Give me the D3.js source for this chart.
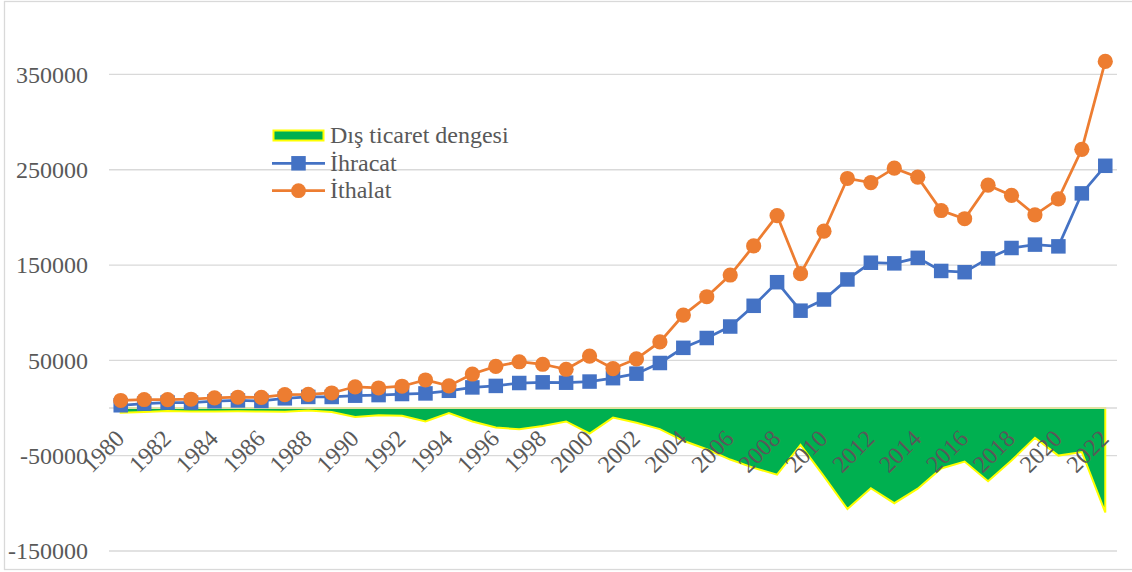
<!DOCTYPE html>
<html>
<head>
<meta charset="utf-8">
<script src="https://cdn.jsdelivr.net/npm/d3@7/dist/d3.min.js"></script>
<style>
  html, body { margin: 0; padding: 0; background: #fff; }
  svg { display: block; }
  text { font-family: "Liberation Serif", "Times New Roman", serif; fill: #595959; }
</style>
</head>
<body>
<svg id="chart" width="1132" height="572"></svg>
<script>
const years = d3.range(1980, 2023);
const ihracat = [2910, 4703, 5746, 5728, 7134, 7958, 7457, 10190, 11662, 11625,
  12959, 13593, 14715, 15345, 18106, 21637, 23224, 26261, 26974, 26587,
  27775, 31334, 36059, 47253, 63167, 73476, 85535, 107272, 132027, 102143,
  113883, 134907, 152462, 151803, 157610, 143839, 142530, 156993, 167921, 171465,
  169638, 225214, 254172];
const ithalat = [7909, 8933, 8843, 9235, 10757, 11343, 11105, 14158, 14335, 15792,
  22302, 21047, 22871, 29428, 23270, 35709, 43627, 48559, 45921, 40671,
  54503, 41399, 51554, 69340, 97540, 116774, 139576, 170063, 201964, 140928,
  185544, 240842, 236545, 251661, 242177, 207234, 198618, 233800, 223047, 202704,
  219517, 271426, 363711];
const denge = [-4999, -4230, -3097, -3507, -3623, -3385, -3648, -3968, -2673, -4167,
  -9343, -7454, -8156, -14083, -5164, -14072, -20403, -22298, -18947, -14084,
  -26728, -10065, -15495, -22087, -34373, -43298, -54041, -62791, -69937, -38785,
  -71661, -105935, -84083, -99858, -84567, -63395, -56088, -76807, -55126, -31239,
  -49879, -46212, -109539];
const yTicks = [-150000, -50000, 50000, 150000, 250000, 350000];
const xTickYears = years.filter(y => (y - 1980) % 2 === 0);
const seriesNames = ["Dış ticaret dengesi", "İhracat", "İthalat"];

const svg = d3.select("#chart");
const L = 109, R = 1117;
const x = d3.scalePoint().domain(years).range([L, R]).padding(0.5);
const y = d3.scaleLinear().domain([-150000, 400000]).range([551, 26.8]);

// chart border
svg.append("rect").attr("x", 4.5).attr("y", 1.5).attr("width", 1140).attr("height", 568)
  .attr("fill", "none").attr("stroke", "#d9d9d9").attr("stroke-width", 1.3);

// gridlines
svg.append("g").selectAll("line").data(yTicks).join("line")
  .attr("x1", L).attr("x2", R)
  .attr("y1", d => y(d)).attr("y2", d => y(d))
  .attr("stroke", "#d9d9d9").attr("stroke-width", 1.3);

// y labels
svg.append("g").selectAll("text").data(yTicks).join("text")
  .attr("x", 88).attr("y", d => y(d)).attr("dy", "0.34em")
  .attr("text-anchor", "end").attr("font-size", 24)
  .text(d => d);

// area
const idx = d3.range(years.length);
const area = d3.area().x(i => x(years[i])).y0(y(0)).y1(i => y(denge[i]));
svg.append("path").datum(idx).attr("d", area)
  .attr("fill", "#00B050").attr("stroke", "#FFFF00").attr("stroke-width", 2)
  .attr("stroke-linejoin", "miter");

// zero axis line
svg.append("line").attr("x1", L).attr("x2", R).attr("y1", y(0)).attr("y2", y(0))
  .attr("stroke", "#d9d9d9").attr("stroke-width", 1.5);

// lines
const lineGen = arr => d3.line().x(i => x(years[i])).y(i => y(arr[i]));
svg.append("path").datum(idx).attr("d", lineGen(ihracat))
  .attr("fill", "none").attr("stroke", "#4472C4").attr("stroke-width", 2.75);
const sq = 14.5;
svg.append("g").selectAll("rect").data(idx).join("rect")
  .attr("x", i => x(years[i]) - sq / 2).attr("y", i => y(ihracat[i]) - sq / 2)
  .attr("width", sq).attr("height", sq).attr("fill", "#4472C4");

svg.append("path").datum(idx).attr("d", lineGen(ithalat))
  .attr("fill", "none").attr("stroke", "#ED7D31").attr("stroke-width", 2.75);
svg.append("g").selectAll("circle").data(idx).join("circle")
  .attr("cx", i => x(years[i])).attr("cy", i => y(ithalat[i])).attr("r", 7.6)
  .attr("fill", "#ED7D31");

// x labels
svg.append("g").selectAll("text").data(xTickYears).join("text")
  .attr("transform", d => `translate(${x(d) + 5},${440}) rotate(-45)`)
  .attr("text-anchor", "end").attr("font-size", 24)
  .text(d => d);

// legend
const lg = svg.append("g");
lg.append("rect").attr("x", 273.5).attr("y", 130.5).attr("width", 50).attr("height", 10)
  .attr("fill", "#00B050").attr("stroke", "#FFFF00").attr("stroke-width", 2);
lg.append("text").attr("x", 330).attr("y", 143.3).attr("font-size", 24).text(seriesNames[0]);

lg.append("line").attr("x1", 272).attr("x2", 325).attr("y1", 163.3).attr("y2", 163.3)
  .attr("stroke", "#4472C4").attr("stroke-width", 2.75);
lg.append("rect").attr("x", 298.5 - sq / 2).attr("y", 163.3 - sq / 2).attr("width", sq).attr("height", sq)
  .attr("fill", "#4472C4");
lg.append("text").attr("x", 330).attr("y", 170.8).attr("font-size", 24).text(seriesNames[1]);

lg.append("line").attr("x1", 272).attr("x2", 325).attr("y1", 190.7).attr("y2", 190.7)
  .attr("stroke", "#ED7D31").attr("stroke-width", 2.75);
lg.append("circle").attr("cx", 298.5).attr("cy", 190.7).attr("r", 7.4).attr("fill", "#ED7D31");
lg.append("text").attr("x", 330).attr("y", 198.3).attr("font-size", 24).text(seriesNames[2]);
</script>
</body>
</html>
